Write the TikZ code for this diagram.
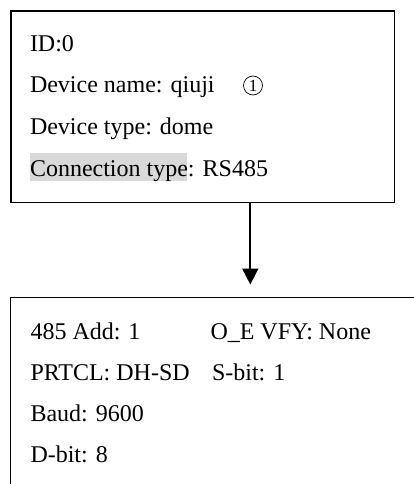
\documentclass[tikz,border=0pt]{standalone}
\usepackage{fontspec}
\setmainfont{Liberation Serif}
\usetikzlibrary{arrows.meta}
\definecolor{hlgray}{RGB}{217,217,217}
\tikzset{
  boxframe/.style={draw=black, line width=1.8pt, inner sep=0pt, outer sep=0pt, anchor=north west},
  txt/.style={anchor=base west, inner sep=0pt, outer sep=0pt, font=\fontsize{24}{24}\selectfont},
  arrowline/.style={line width=1.8pt, -{Triangle[width=16pt,length=16pt]}},
  circnum/.style={circle, draw=black, line width=0.7pt, minimum size=19pt, inner sep=0pt, font=\fontsize{17}{17}\selectfont}
}
\begin{document}
\begin{tikzpicture}[x=1pt, y=-1pt]
\clip (0,0) rectangle (414,484);
\fill[white] (0,0) rectangle (414,484);
% top box
\node[boxframe, minimum width=383.7pt, minimum height=191.5pt] (topbox) at (10.8,11) {};
\fill[hlgray] (30,152.7) rectangle (187,180.7);
\node[txt] (id) at (30,52) {ID:0};
\node[txt] (dname) at (30,93) {Device name: qiuji};
\node[circnum] (c1) at (253,85.5) {1};
\node[txt] (dtype) at (30,134.5) {Device type: dome};
\node[txt] (ctype) at (30,176) {Connection type: RS485};
% bottom box
\node[boxframe, minimum width=420pt, minimum height=200pt] (botbox) at (10.5,297.5) {};
\node[txt] (add) at (30.5,339) {485 Add: 1};
\node[txt] (vfy) at (210.5,339) {O\_E VFY: None};
\node[txt] (prtcl) at (30.5,380) {PRTCL: DH-SD};
\node[txt] (sbit) at (212,380) {S-bit: 1};
\node[txt] (baud) at (30.5,421.5) {Baud: 9600};
\node[txt] (dbit) at (30.5,462) {D-bit: 8};
% arrow
\coordinate (tip) at (250.3,284.5);
\draw[arrowline] (tip |- topbox.south) -- (tip);
\end{tikzpicture}
\end{document}
